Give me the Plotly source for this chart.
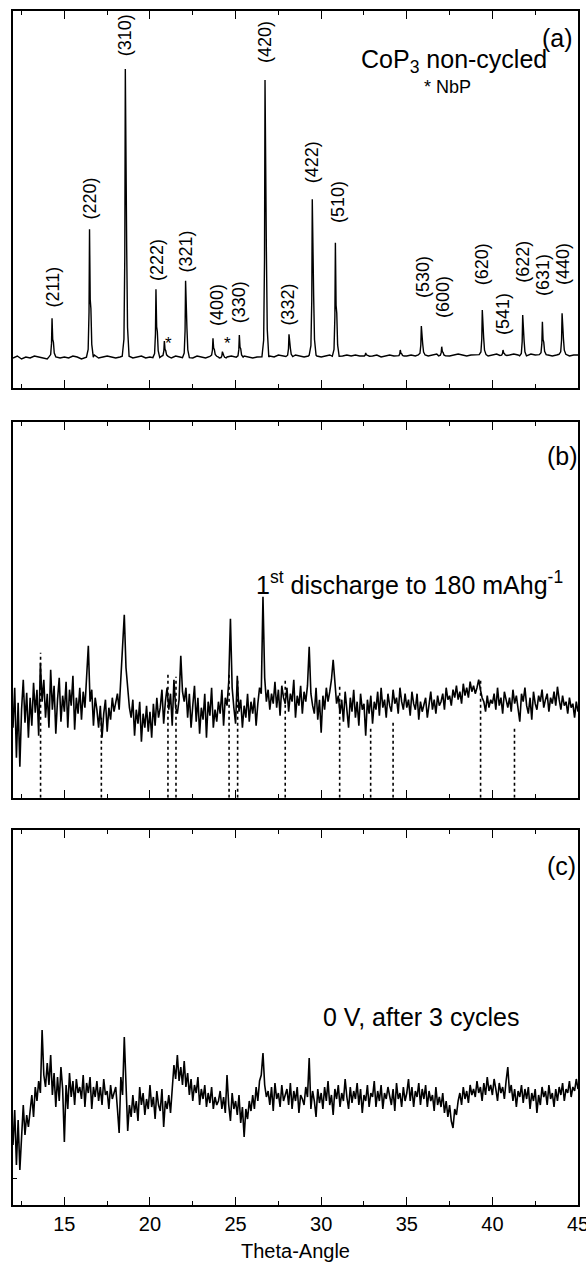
import numpy as np
import plotly.graph_objects as go

# ---------------- data ----------------
X_MIN, X_MAX = 12.0, 45.0
x_tick_vals = [15, 20, 25, 30, 35, 40, 45]
x_title = "Theta-Angle"

# Panel (a): CoP3 non-cycled, baseline sampled every 0.25 deg from 12.0
baseline_a = [
    30, 32, 29, 31, 30, 32, 31, 30, 29, 31, 32, 30,
    31, 30, 32, 31, 29, 30, 31, 33, 30, 31, 32, 31,
    30, 31, 32, 31, 30, 31, 32, 30, 31, 30, 31, 32,
    31, 30, 32, 31, 30, 31, 30, 32, 31, 30, 31, 32,
    31, 30, 31, 32, 30, 31, 32, 31, 30, 31, 32, 31,
    32, 31, 33, 32, 31, 32, 33, 32, 31, 32, 33, 32,
    31, 32, 33, 32, 31, 32, 33, 32, 33, 32, 31, 33,
    32, 33, 31, 32, 33, 32, 31, 33, 32, 33, 32, 33,
    33, 32, 33, 34, 32, 33, 32, 33, 34, 33, 32, 33,
    33, 34, 33, 32, 33, 34, 33, 32, 33, 34, 33, 32,
    33, 34, 33, 32, 34, 33, 32, 33, 34, 33, 32, 33,
    33,
]
peak_pos = [14.28, 16.47, 18.56, 20.35, 20.84, 22.08, 23.68, 24.23, 25.22,
            26.72, 28.12, 29.48, 30.83, 32.60, 34.62, 35.85, 37.04, 39.41,
            40.62, 41.77, 42.92, 44.07]
peak_top = [69.7, 158.7, 319, 98.7, 47, 107.3, 49.7, 36.3, 53,
            308, 53.7, 188.7, 145.3, 35, 38, 62, 41.3, 78,
            38, 73, 66.3, 74.7]

hkl_labels = ["(211)", "(220)", "(310)", "(222)", "(321)", "(400)", "(330)",
              "(420)", "(332)", "(422)", "(510)", "(530)", "(600)", "(620)",
              "(541)", "(622)", "(631)", "(440)"]
hkl_x = [14.28, 16.47, 18.56, 20.41, 22.08, 23.92, 25.22, 26.72, 28.04,
         29.48, 30.98, 35.95, 37.12, 39.41, 40.62, 41.77, 42.96, 44.13]
hkl_y = [78, 166, 330, 105, 113, 60, 63, 323, 60,
         203, 163, 88, 68, 101, 51, 103, 90, 101]
nbp_x = [21.09, 24.50]
nbp_y = [45, 45]

# Panel (b): 1st discharge, sampled every 0.1 deg from 12.0
intensity_b = [
    70, 110, 40, 95, 31, 88, 118, 75, 105, 60,
    100, 72, 115, 85, 108, 62, 135, 96, 118, 80,
    104, 70, 128, 88, 112, 64, 98, 120, 76, 102,
    86, 116, 70, 108, 92, 122, 68, 100, 84, 110,
    78, 106, 90, 118, 152, 96, 108, 72, 100, 88,
    70, 92, 60, 84, 98, 66, 90, 78, 100, 86,
    96, 104, 88, 118, 140, 183, 130, 108, 90, 80,
    98, 62, 88, 74, 96, 56, 84, 70, 92, 66,
    86, 60, 94, 72, 100, 80, 90, 108, 74, 96,
    110, 88, 104, 72, 118, 90, 84, 98, 142, 106,
    96, 110, 80, 104, 70, 92, 112, 76, 100, 64,
    90, 78, 104, 60, 96, 82, 110, 70, 88, 76,
    96, 84, 108, 72, 100, 92, 116, 179, 110, 90,
    74, 122, 86, 98, 70, 92, 80, 104, 76, 96,
    84, 100, 72, 94, 110, 104, 201, 120, 96, 108,
    88, 104, 94, 116, 90, 108, 82, 112, 100, 94,
    110, 86, 104, 96, 118, 80, 102, 92, 112, 84,
    106, 96, 112, 151, 104, 92, 84, 110, 78, 98,
    65, 102, 88, 110, 96, 106, 118, 138, 112, 94,
    102, 84, 98, 76, 106, 90, 70, 100, 86, 108,
    80, 96, 72, 104, 88, 94, 62, 98, 84, 102,
    74, 96, 88, 106, 82, 110, 90, 98, 80, 104,
    92, 86, 108, 94, 100, 84, 110, 96, 88, 104,
    90, 98, 82, 106, 94, 88, 104, 78, 96, 86,
    94, 100, 80, 92, 106, 88, 98, 84, 102, 92,
    96, 104, 88, 110, 98, 102, 92, 108, 100, 112,
    98, 106, 94, 114, 102, 110, 100, 116, 106, 112,
    104, 110, 118, 108, 100, 96, 86, 102, 90, 98,
    94, 104, 88, 110, 92, 100, 84, 106, 96, 90,
    100, 86, 108, 94, 102, 90, 76, 104, 96, 110,
    92, 84, 100, 78, 106, 94, 88, 102, 96, 108,
    90, 98, 104, 86, 100, 94, 106, 92, 111, 98,
    88, 102, 92, 96, 84, 100, 90, 94, 80, 96,
    86,
]
ref_pos_b = [13.61, 17.16, 21.05, 21.52, 24.62, 25.12, 27.90, 31.08, 32.89,
             34.20, 39.31, 41.29]
ref_top_b = [145, 80, 126, 121, 123, 118, 117, 111, 71, 78, 118, 71]

# Panel (c): 0 V after 3 cycles, sampled every 0.1 deg from 12.0
intensity_c = [
    60, 95, 40, 85, 35, 75, 100, 70, 90, 78,
    96, 110, 88, 118, 104, 124, 112, 175, 130, 118,
    142, 120, 150, 110, 132, 98, 128, 104, 138, 116,
    63, 120, 96, 132, 108, 124, 100, 126, 112, 118,
    106, 130, 98, 122, 112, 128, 96, 118, 108, 124,
    104, 118, 100, 126, 110, 114, 96, 120, 106, 112,
    118, 96, 72, 128, 110, 168, 120, 74, 100, 88,
    110, 92, 104, 84, 118, 100, 112, 90, 106, 96,
    120, 98, 108, 86, 114, 100, 94, 116, 78, 104,
    96, 110, 92, 118, 140, 126, 150, 124, 138, 120,
    144, 118, 132, 110, 126, 104, 120, 112, 128, 100,
    116, 106, 120, 98, 112, 102, 118, 96, 108, 100,
    104, 114, 96, 108, 92, 130, 100, 84, 112, 96,
    104, 90, 110, 82, 98, 68, 96, 86, 104, 94,
    110, 96, 118, 104, 124, 130, 152, 120, 108, 114,
    100, 118, 94, 122, 106, 112, 98, 120, 104, 110,
    116, 100, 122, 96, 114, 104, 118, 92, 110, 106,
    100, 118, 108, 147, 96, 114, 104, 88, 116, 102,
    112, 96, 118, 104, 124, 100, 110, 90, 116, 106,
    120, 98, 112, 104, 126, 108, 96, 118, 102, 114,
    106, 122, 100, 116, 92, 110, 104, 120, 98, 112,
    108, 124, 98, 114, 104, 120, 96, 112, 106, 118,
    110, 100, 116, 94, 122, 106, 112, 98, 118, 104,
    112, 126, 104, 118, 98, 114, 108, 122, 100, 116,
    106, 120, 98, 114, 104, 110, 94, 118, 100, 108,
    98, 112, 92, 104, 88, 100, 84, 77, 96, 90,
    104, 112, 100, 118, 106, 114, 102, 120, 110, 116,
    108, 124, 112, 118, 104, 122, 110, 128, 114, 120,
    110, 126, 116, 104, 122, 112, 118, 106, 124, 138,
    112, 120, 104, 116, 98, 114, 108, 120, 102, 116,
    106, 118, 96, 112, 104, 116, 92, 110, 100, 118,
    108, 114, 100, 120, 106, 112, 98, 116, 104, 118,
    110, 122, 104, 116, 112, 124, 108, 118, 114, 126,
    116,
]

# ---------------- build traces ----------------
FONT = "Liberation Sans, Arial, Helvetica, sans-serif"
x_a_base = np.round(X_MIN + 0.25 * np.arange(len(baseline_a)), 4)
x_bc = np.round(X_MIN + 0.1 * np.arange(len(intensity_b)), 4)

# peak profile template (offset in deg, fraction of height above baseline)
profile = [(-0.18, 0.0), (-0.08, 0.06), (-0.03, 0.35), (0.0, 1.0),
           (0.04, 0.45), (0.08, 0.38), (0.13, 0.10), (0.22, 0.0)]
pts = []
for xb, yb in zip(x_a_base, baseline_a):
    if all(not (p - 0.22 <= xb <= p + 0.26) for p in peak_pos):
        pts.append((xb, yb))
for p, top in zip(peak_pos, peak_top):
    base = float(np.interp(p, x_a_base, baseline_a))
    for dx, f in profile:
        pts.append((p + dx, base + f * (top - base)))
pts.sort()
xa = [q[0] for q in pts]
ya = [q[1] for q in pts]

ref_x, ref_y = [], []
for p, t in zip(ref_pos_b, ref_top_b):
    ref_x += [p, p, None]
    ref_y += [0, t, None]

fig = go.Figure()
fig.add_trace(go.Scatter(x=ref_x, y=ref_y, mode="lines", xaxis="x2", yaxis="y2",
                         line=dict(color="black", width=1.6, dash="dot"),
                         showlegend=False, hoverinfo="skip"))
fig.add_trace(go.Scatter(x=xa, y=ya, mode="lines", xaxis="x", yaxis="y",
                         line=dict(color="black", width=1.4), showlegend=False))
fig.add_trace(go.Scatter(x=x_bc, y=intensity_b, mode="lines", xaxis="x2", yaxis="y2",
                         line=dict(color="black", width=1.6), showlegend=False))
fig.add_trace(go.Scatter(x=x_bc, y=intensity_c, mode="lines", xaxis="x3", yaxis="y3",
                         line=dict(color="black", width=1.6), showlegend=False))

W, H = 586, 1263
ML, MR, MT, MB = 13, 8, 11, 58
plot_h = H - MT - MB


def dom(top_px, bot_px):
    return [(H - MB - bot_px) / plot_h, (H - MB - top_px) / plot_h]


xa_common = dict(range=[X_MIN, X_MAX], showline=True, linecolor="black", linewidth=1.6,
                 mirror="ticks", ticks="inside", ticklen=8, tickwidth=1.4, tickcolor="black",
                 tickvals=x_tick_vals, showgrid=False, zeroline=False, automargin=False,
                 ticklabeloverflow="allow",
                 minor=dict(tickvals=[12.5, 17.5, 22.5, 27.5, 32.5, 37.5, 42.5],
                            ticks="inside", ticklen=4, tickwidth=1.4, tickcolor="black"),
                 tickfont=dict(family=FONT, size=20, color="black"))
ya_common = dict(showline=True, linecolor="black", linewidth=1.6, mirror=True,
                 showticklabels=False, showgrid=False, zeroline=False, ticks="",
                 automargin=False)

fig.update_layout(
    width=W, height=H, plot_bgcolor="white", paper_bgcolor="white",
    margin=dict(l=ML, r=MR, t=MT, b=MB, autoexpand=False),
    xaxis=dict(xa_common, anchor="y", showticklabels=False),
    xaxis2=dict(xa_common, anchor="y2", showticklabels=False),
    xaxis3=dict(xa_common, anchor="y3", showticklabels=True),
    yaxis=dict(ya_common, domain=dom(11, 388), range=[0, 377]),
    yaxis2=dict(ya_common, domain=dom(421.7, 797.7), range=[0, 376]),
    yaxis3=dict(ya_common, domain=dom(830, 1205), range=[0, 375],
                ticks="inside", tickvals=[27], ticklen=4, tickcolor="black"),
)

ann = []
for t, x, y in zip(hkl_labels, hkl_x, hkl_y):
    ann.append(dict(text=t, x=x, y=y, xref="x", yref="y", showarrow=False,
                    textangle=-90, xanchor="center", yanchor="bottom",
                    font=dict(family=FONT, size=18, color="black")))
for x, y in zip(nbp_x, nbp_y):
    ann.append(dict(text="*", x=x, y=y, xref="x", yref="y", showarrow=False,
                    font=dict(family=FONT, size=17, color="black")))
big = dict(family=FONT, size=25, color="black")
ann += [
    dict(text="(a)", x=43.78, y=350, xref="x", yref="y", showarrow=False, font=big),
    dict(text="CoP<sub>3</sub> non-cycled", x=32.23, y=327, xref="x", yref="y",
         showarrow=False, xanchor="left", font=big),
    dict(text="* NbP", x=37.37, y=301, xref="x", yref="y", showarrow=False,
         font=dict(family=FONT, size=18, color="black")),
    dict(text="(b)", x=44.07, y=342, xref="x2", yref="y2", showarrow=False, font=big),
    dict(text="1<sup>st</sup> discharge to 180 mAhg<sup>-1</sup>", x=26.09, y=215,
         xref="x2", yref="y2", showarrow=False, xanchor="left", font=big),
    dict(text="(c)", x=44.03, y=339, xref="x3", yref="y3", showarrow=False, font=big),
    dict(text="0 V, after 3 cycles", x=30.0, y=188, xref="x3", yref="y3",
         showarrow=False, xanchor="left", font=big),
    dict(text=x_title, x=0.5, y=-(1251 - 1205) / plot_h, xref="paper", yref="paper",
         showarrow=False, xanchor="center", yanchor="middle",
         font=dict(family=FONT, size=20, color="black")),
]
fig.update_layout(annotations=ann)

fig.write_html("out.html", config={"displayModeBar": False},
               post_script="document.body.style.margin='0';"
                           "document.body.style.overflow='hidden';")
